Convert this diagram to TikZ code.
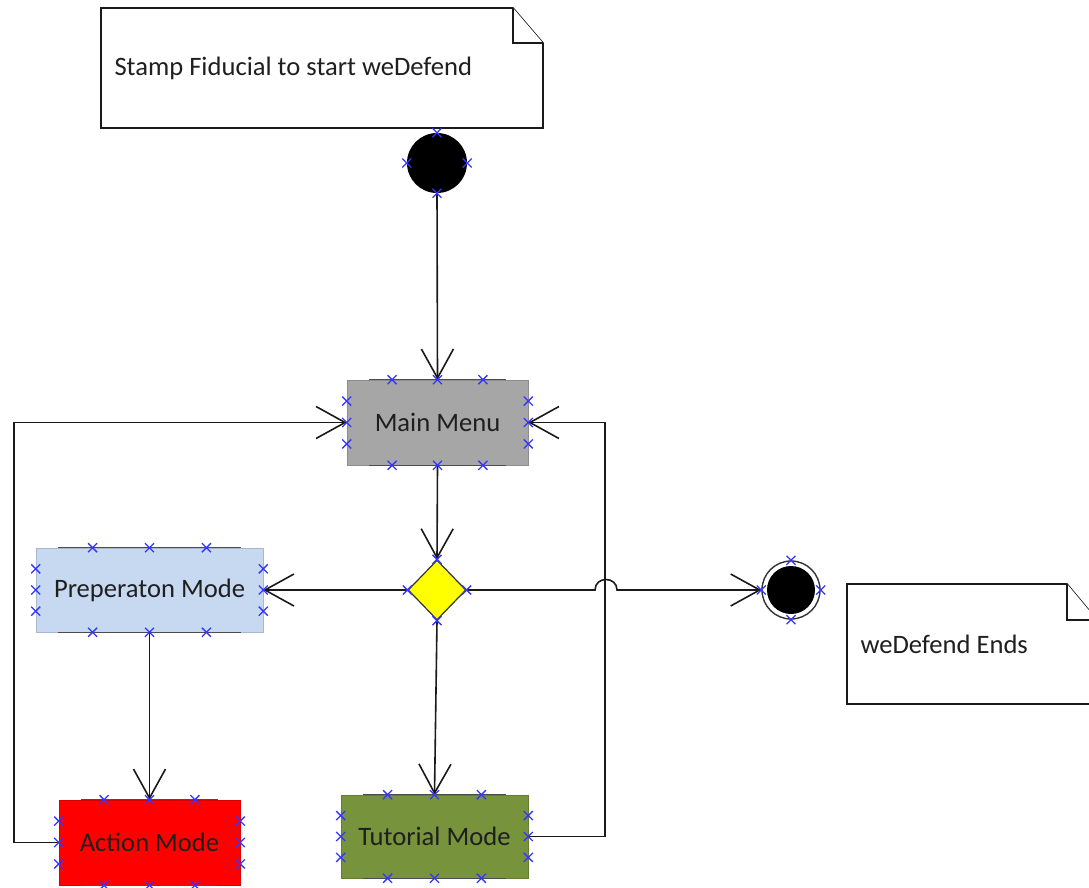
\documentclass[tikz,border=0pt]{standalone}
\usepackage{fontspec}
\setmainfont{Carlito}
\usetikzlibrary{arrows.meta,shapes.geometric,calc}
\definecolor{menugray}{HTML}{A6A6A6}
\definecolor{prepblue}{HTML}{C6D9F0}
\definecolor{actred}{HTML}{FF0000}
\definecolor{tutgreen}{HTML}{77933C}
\definecolor{decyellow}{HTML}{FFFF00}
\definecolor{cpblue}{HTML}{3535FF}
\definecolor{inkline}{HTML}{1A1A1A}

% connection-point markers around a rectangular state
\newcommand{\cpbox}[1]{%
  \foreach \t in {0.25,0.5,0.75}{%
    \pic at ($(#1.north west)!\t!(#1.north east)$) {cpx};
    \pic at ($(#1.south west)!\t!(#1.south east)$) {cpx};
    \pic at ($(#1.north west)!\t!(#1.south west)$) {cpx};
    \pic at ($(#1.north east)!\t!(#1.south east)$) {cpx};
  }}
% dark rims along the top and bottom of a state
\newcommand{\rims}[1]{%
  \draw[rim] ([xshift=22pt]#1.north west) -- ([xshift=-22pt]#1.north east);
  \draw[rim] ([xshift=22pt]#1.south west) -- ([xshift=-22pt]#1.south east);}

\begin{document}
\begin{tikzpicture}[x=1pt,y=-1pt,
  every node/.style={font=\fontsize{26.6}{30}\selectfont, text=black!88},
  state/.style={rectangle, inner sep=0pt, fill=#1, draw=#1!85!black, line width=0.6pt},
  rim/.style={line width=1.5pt, draw=black!70},
  wire/.style={line width=1.6pt, draw=inkline},
  openarrow/.style={-{Straight Barb[length=29pt,width=32pt,line width=1.6pt]}},
  note/.style={line width=1.6pt, draw=inkline, fill=white, line join=miter},
  cpx/.pic={\draw[cpblue, line width=1.3pt] (-4.5,-4.5) -- (4.5,4.5) (-4.5,4.5) -- (4.5,-4.5);}
]
\useasboundingbox (0,0) rectangle (1089,888);
\clip (0,0) rectangle (1089,888);

% notes
\draw[note] (101,8) -- (513,8) -- (543,43) -- (543,128) -- (101,128) -- cycle;
\draw[note] (513,8) -- (513,43) -- (543,43);
\node[anchor=west] (startnote) at (111,68) {Stamp Fiducial to start weDefend};

\draw[note] (847,584) -- (1067,584) -- (1097,620) -- (1097,704) -- (847,704) -- cycle;
\draw[note] (1067,584) -- (1067,620) -- (1097,620);
\node[anchor=west] (endnote) at (857,644) {weDefend Ends};

% states
\node[circle, fill=black, minimum size=60pt, inner sep=0pt] (start) at (437,163) {};
\node[state=menugray, minimum width=181pt, minimum height=85pt] (mm) at (437.5,422.5) {Main Menu};
\node[diamond, fill=decyellow, draw=black!80, line width=1.2pt, minimum width=58pt, minimum height=60pt, inner sep=0pt] (dec) at (437,590) {};
\node[state=prepblue, minimum width=227pt, minimum height=84pt] (prep) at (149.5,590) {Preperaton Mode};
\node[state=actred, minimum width=181pt, minimum height=85pt] (act) at (149.5,842.5) {Action Mode};
\node[state=tutgreen, minimum width=187pt, minimum height=83pt] (tut) at (434.5,836.5) {Tutorial Mode};
\node[circle, draw=black!80, line width=1.4pt, fill=white, minimum size=58pt, inner sep=0pt] (stop) at (791,590) {};
\fill[black] (stop.center) circle (24pt);

\rims{mm}
\rims{prep}
\rims{act}
\rims{tut}

% routing points
\coordinate (hopa) at (595,590);
\coordinate (hopb) at (617,590);
\coordinate (rx) at (605,422);
\coordinate (lx) at (14,422);

% transitions
\draw[wire,openarrow] (start.south) -- (mm.north);
\draw[wire,openarrow] (mm.south) -- (dec.north);
\draw[wire,openarrow] (dec.west) -- (prep.east);
\draw[wire,openarrow] (dec.east) -- (hopa) .. controls ($(hopa)+(0,-14)$) and ($(hopb)+(0,-14)$) .. (hopb) -- (stop.west);
\draw[wire,openarrow] (dec.south) -- (tut.north);
\draw[wire,openarrow] (prep.south) -- (act.north);
\draw[wire,openarrow] (tut.east) -- (tut.east -| rx) -- (mm.east -| rx) -- (mm.east);
\draw[wire,openarrow] (act.west) -- (act.west -| lx) -- (mm.west -| lx) -- (mm.west);

% connection points
\cpbox{mm}
\cpbox{prep}
\cpbox{act}
\cpbox{tut}
\foreach \a in {north,east,south,west}{
  \pic at (start.\a) {cpx};
  \pic at (dec.\a) {cpx};
  \pic at (stop.\a) {cpx};
}
\end{tikzpicture}
\end{document}
